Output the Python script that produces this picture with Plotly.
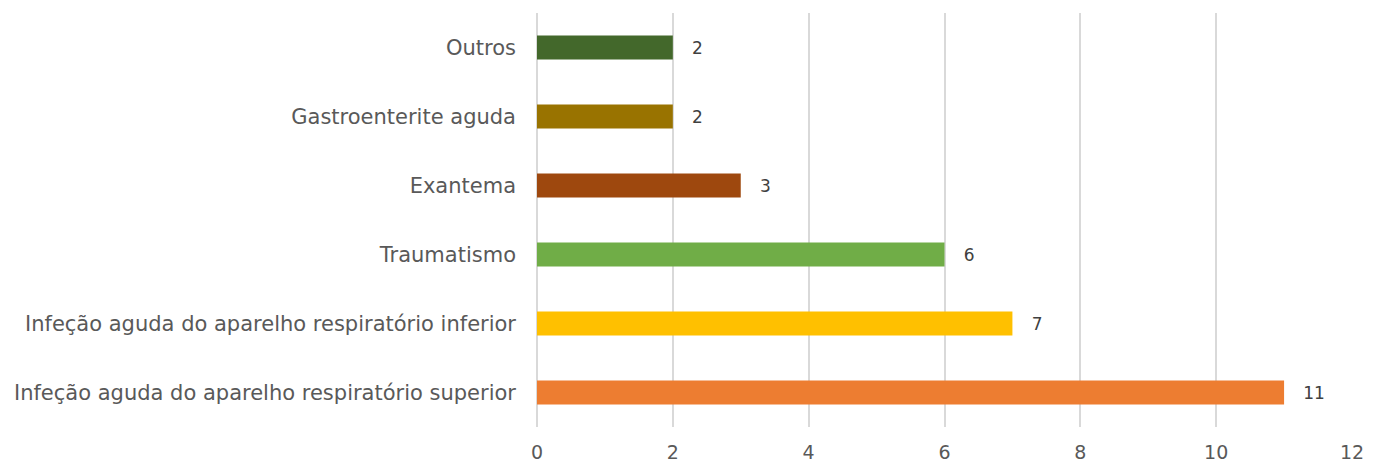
import plotly.graph_objects as go

categories = [
    "Infeção aguda do aparelho respiratório superior",
    "Infeção aguda do aparelho respiratório inferior",
    "Traumatismo",
    "Exantema",
    "Gastroenterite aguda",
    "Outros",
]
values = [11, 7, 6, 3, 2, 2]
bar_colors = ["#ED7D31", "#FFC000", "#70AD47", "#9E480E", "#997300", "#43682B"]
x_ticks = [0, 2, 4, 6, 8, 10, 12]

font_family = "DejaVu Sans, Open Sans, sans-serif"

fig = go.Figure()
fig.add_trace(go.Bar(
    x=values,
    y=categories,
    orientation="h",
    marker=dict(color=bar_colors, line=dict(width=0)),
    width=0.35,
    text=values,
    texttemplate="   %{text}",
    textposition="outside",
    cliponaxis=False,
    textfont=dict(size=17, color="#404040", family=font_family),
    showlegend=False,
))

# page body has an 8px margin, so the figure is sized a bit smaller
fig.update_layout(
    width=1371, height=457,
    margin=dict(l=529, r=27, t=5, b=38),
    plot_bgcolor="white",
    paper_bgcolor="white",
    font=dict(family=font_family, color="#595959"),
    xaxis=dict(
        range=[0, 12],
        tickvals=x_ticks,
        showgrid=True,
        gridcolor="#D9D9D9",
        gridwidth=1.5,
        zeroline=True,
        zerolinecolor="#D9D9D9",
        zerolinewidth=1.5,
        showline=False,
        tickfont=dict(size=19, color="#595959"),
        ticks="",
        ticklabelstandoff=12,
        automargin=False,
    ),
    yaxis=dict(
        categoryorder="array",
        categoryarray=categories,
        showgrid=False,
        showline=False,
        ticks="",
        ticklabelstandoff=20,
        tickfont=dict(size=21, color="#595959"),
        range=[-0.5, 5.5],
        automargin=False,
    ),
)

fig.write_html("out.html")
